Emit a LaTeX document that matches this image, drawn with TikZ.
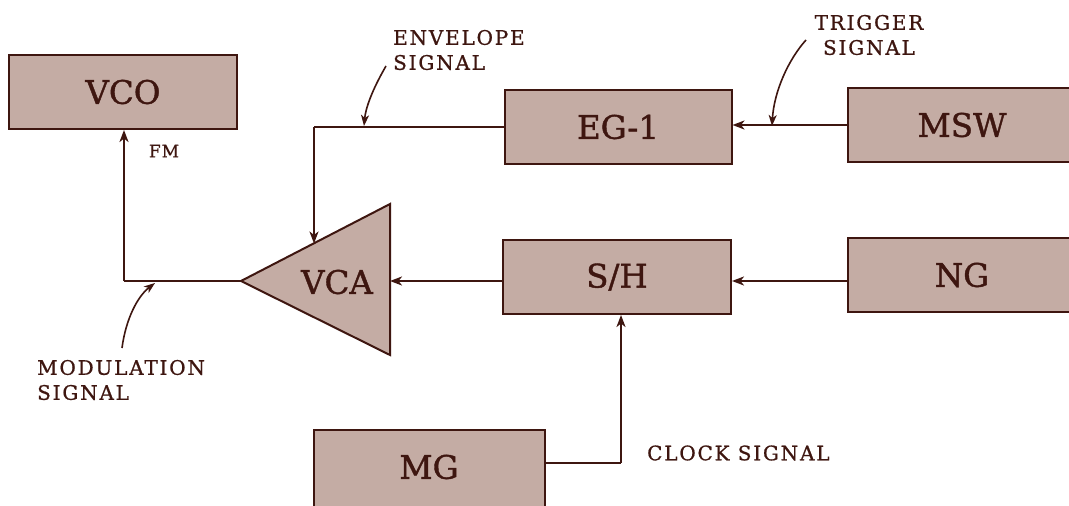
\documentclass[tikz,border=0pt]{standalone}
\usepackage{fontspec}
\setmainfont{DejaVu Serif}
\usetikzlibrary{arrows.meta}
\definecolor{boxfill}{RGB}{196,172,164}
\definecolor{ink}{RGB}{62,22,16}
\tikzset{
  x=1pt, y=-1pt,
  bigfont/.style={font=\fontsize{32.5}{36}\selectfont\addfontfeature{FakeBold=1.2}},
  block/.style={draw=ink, fill=boxfill, line width=2pt, text=ink,
    minimum width=#1, minimum height=74pt, inner sep=0pt, bigfont},
  wire/.style={draw=ink, line width=2pt},
  arr/.style={wire, -{Stealth[length=12pt,width=9pt,inset=3.5pt]}},
  note/.style={text=ink, inner sep=0pt,
    font=\fontsize{20}{25}\selectfont\addfontfeature{LetterSpace=9,FakeBold=0.8}},
  smallnote/.style={text=ink, inner sep=0pt,
    font=\fontsize{17}{20}\selectfont\addfontfeature{LetterSpace=6,FakeBold=0.8}},
  pointer/.style={draw=ink, line width=1.6pt, -{Stealth[length=11pt,width=8pt,inset=3pt]}}
}
\begin{document}
\begin{tikzpicture}
\clip (0,0) rectangle (1069,506);
\fill[white] (0,0) rectangle (1069,506);

% blocks
\node[block=228pt] (vco) at (123,92) {VCO};
\node[block=227pt] (eg) at (618,127) {EG-1};
\node[block=228pt] (msw) at (962,125) {MSW};
\node[block=228pt] (sh) at (617,277) {S/H};
\node[block=228pt] (ng) at (962,275) {NG};
\node[block=231pt, minimum height=80pt] (mg) at (429,470) {};
\node[text=ink, bigfont] (mglabel) at (429,467) {MG};

% VCA triangle
\coordinate (tip) at (241,281);
\coordinate (vtop) at (390,204);
\coordinate (vbot) at (390,355);
\filldraw[draw=ink, fill=boxfill, line width=2pt, line join=miter] (tip) -- (vtop) -- (vbot) -- cycle;
\node[text=ink, bigfont] (vca) at (337,282) {VCA};
\coordinate (vcain) at (390,281);
\coordinate (envin) at (314,243.5);
\coordinate (envcorner) at (314,127);
\coordinate (modcorner) at (124,281);
\coordinate (clkcorner) at (621,463);

% connectors
\draw[arr] (msw.west) -- (msw.west -| eg.east);
\draw[wire] (eg.west |- envcorner) -- (envcorner);
\draw[arr] (envcorner) -- (envin);
\draw[arr] (ng.west |- 0,281) -- (sh.east |- 0,281);
\draw[arr] (sh.west |- vcain) -- (vcain);
\draw[wire] (tip) -- (modcorner);
\draw[arr] (modcorner) -- (modcorner |- vco.south);
\draw[wire] (mg.east |- clkcorner) -- (clkcorner);
\draw[arr] (clkcorner) -- (clkcorner |- sh.south);

% annotation texts
\node[smallnote] (fm) at (164,151) {FM};
\node[note, anchor=west, align=left] (env) at (393,50) {ENVELOPE\\SIGNAL};
\node[note, align=center] (trig) at (869,35) {TRIGGER\\SIGNAL};
\node[note, anchor=west, align=left] (mod) at (37,380) {MODULATION\\SIGNAL};
\node[note, anchor=west] (clk) at (647,453) {CLOCK SIGNAL};

% pointer arrows
\coordinate (envp) at (364,126);
\coordinate (trigp) at (772,126);
\coordinate (modp) at (155,283);
\draw[pointer] (386,66) .. controls (375,85) and (366,105) .. (envp);
\draw[pointer] (806,40) .. controls (788,60) and (774,92) .. (trigp);
\draw[pointer] (122,348) .. controls (126,318) and (138,296) .. (modp);
\end{tikzpicture}
\end{document}
